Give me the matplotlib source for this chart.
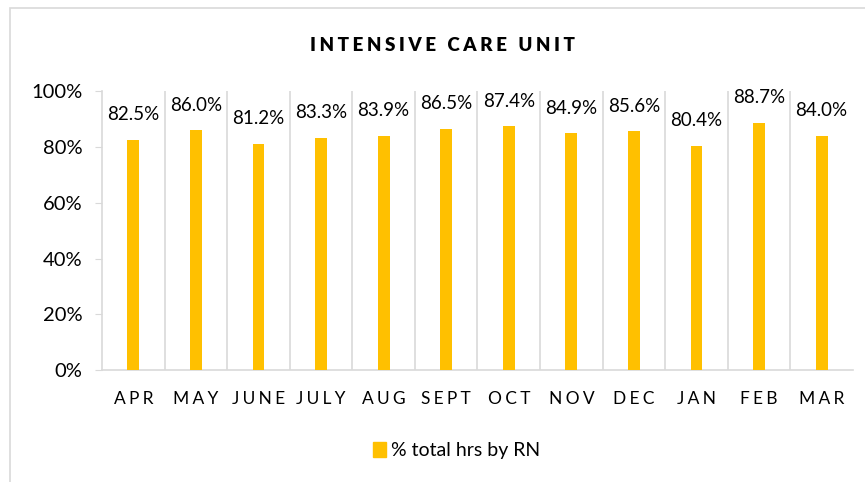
import matplotlib.pyplot as plt
from matplotlib.patches import Rectangle
from matplotlib.ticker import PercentFormatter

months = ["APR", "MAY", "JUNE", "JULY", "AUG", "SEPT", "OCT", "NOV", "DEC", "JAN", "FEB", "MAR"]
rn_pct = [82.5, 86.0, 81.2, 83.3, 83.9, 86.5, 87.4, 84.9, 85.6, 80.4, 88.7, 84.0]
title = "INTENSIVE CARE UNIT"
series_name = "% total hrs by RN"

plt.rcParams["font.family"] = ["Lato", "DejaVu Sans"]
gold = "#FFC000"
grey = "#D9D9D9"


# spasi huruf ala Excel (pakai thin space)
def lebar(s, sp="\u2009"):
    return sp.join(s)


fig = plt.figure(figsize=(8.65, 4.82), dpi=100)
ax = fig.add_axes([0.118, 0.232, 0.868, 0.579])

x = range(len(months))
ax.bar(x, rn_pct, width=0.19, color=gold, zorder=3)
for i, v in zip(x, rn_pct):
    ax.annotate("%.1f%%" % v, (i, v), xytext=(0, 12), textcoords="offset points",
                ha="center", va="bottom", fontsize=13.5, color="#000000")

ax.set_xlim(-0.5, len(months) - 0.5)
ax.set_ylim(0, 100)
ax.set_yticks(range(0, 101, 20))
ax.yaxis.set_major_formatter(PercentFormatter(decimals=0))
ax.set_xticks(list(x))
ax.set_xticklabels([lebar(m, "\u2009\u200a") for m in months], fontsize=12.5)
ax.tick_params(axis="x", length=0, pad=15)
ax.tick_params(axis="y", length=5, color=grey, labelsize=14.5, pad=9)

# garis vertikal di batas kategori
for b in range(1, len(months)):
    ax.axvline(b - 0.5, color=grey, lw=1.2, zorder=1)
for s in ["top", "right"]:
    ax.spines[s].set_visible(False)
ax.spines["left"].set_color(grey)
ax.spines["bottom"].set_color(grey)
ax.spines["left"].set_linewidth(1.2)
ax.spines["bottom"].set_linewidth(1.2)

fig.text(0.512, 0.905, lebar(title, "\u2009\u200a"), ha="center", va="center",
         fontsize=13.5, fontweight="heavy")

ax.legend([Rectangle((0, 0), 1, 1, color=gold)], [series_name], loc="center",
          bbox_to_anchor=(0.528, 0.065), bbox_transform=fig.transFigure,
          frameon=False, fontsize=14, handlelength=0.65, handleheight=0.75,
          handletextpad=0.3)

# bingkai chart
fig.patches.append(Rectangle((10 / 865, -0.1), 2, 1.1 - 8 / 482, transform=fig.transFigure,
                             fill=False, edgecolor=grey, lw=1.2))

fig.savefig("out.png", dpi=100)
